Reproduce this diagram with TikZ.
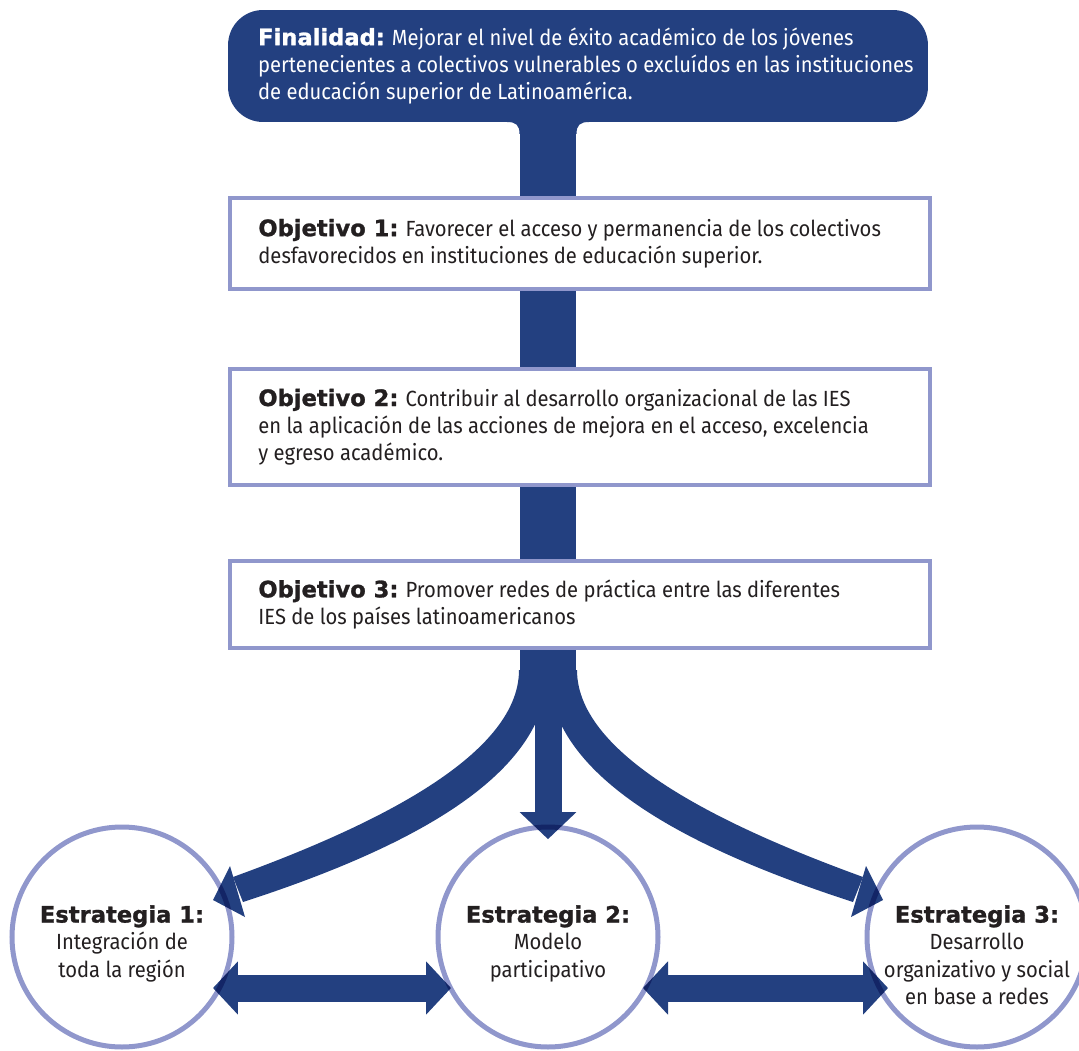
\documentclass[tikz,border=0pt]{standalone}
\usepackage{fontspec}
\setmainfont{Fira Sans}[FakeStretch=0.92]
\newfontfamily\headfont{DejaVu Sans}[Scale=1.03,FakeBold=1.2]
\usetikzlibrary{arrows.meta,positioning,calc}
\definecolor{finblue}{RGB}{35,64,128}
\definecolor{boxlila}{RGB}{144,151,204}
\definecolor{txtgray}{RGB}{35,31,32}
\newcommand{\pxl}{0.02cm}
\newcommand{\hd}[1]{{\headfont\bfseries #1}}
% left branch: tapered band and its head
\newcommand{\branchband}{(519,670) .. controls (519,758) and (365,829) .. (233,877)
  -- (243,902) .. controls (425,843) and (548,770) .. (548,670) -- cycle}
\newcommand{\branchhead}{(230,866) -- (213,900) -- (245,917) -- cycle}

\begin{document}
\begin{tikzpicture}[
x=\pxl, y=-\pxl,
font=\fontsize{12.5}{15.5}\selectfont,
ObjBox/.style={draw=boxlila,line width=0.08cm,fill=white,minimum width=14cm,inner sep=0pt},
ObjText/.style={anchor=west,align=left,inner sep=0pt,text=txtgray},
StratSpot/.style={circle,minimum size=4.4cm,inner sep=0pt},
StratRing/.style={boxlila,line width=0.1cm},
StratText/.style={anchor=north,align=center,inner sep=0pt,text=txtgray},
Trunk/.style={finblue,line width=1.14cm},
Shaft/.style={finblue,line width=0.54cm,-{Triangle[length=0.54cm,width=1.1cm]}},
TwoWay/.style={finblue,line width=0.54cm,{Triangle[length=0.5cm,width=1.04cm]}-{Triangle[length=0.5cm,width=1.04cm]}}
]
\useasboundingbox (0,0) rectangle (1079,1051);
\clip (0,0) rectangle (1079,1051);

% top box and the trunk
\node[fill=finblue,rounded corners=0.7cm,minimum width=14cm,minimum height=2.24cm,inner sep=0pt] (fin) at (578,66) {};
\coordinate (split) at (548,690);
\draw[Trunk] (split |- fin.south) -- (split);
\fill[finblue] (507,122) .. controls (516,122) and (519.5,125) .. (519.5,134) -- (576.5,134) .. controls (576.5,125) and (580,122) .. (589,122) -- cycle;

\node[StratSpot] (est1) at (122,937) {};
\node[StratSpot] (est2) at (548,937) {};
\node[StratSpot] (est3) at (977,937) {};

% arrows to the strategies
\fill[finblue] \branchband;
\fill[finblue] \branchhead;
\begin{scope}[shift={(1096,0)},xscale=-1]
\fill[finblue] \branchband;
\fill[finblue] \branchhead;
\end{scope}
\draw[Shaft] (split) -- ([yshift=-0.25cm]est2.north);
\draw[TwoWay] ($(est1.center)+(91,51)$) -- ($(est2.center)+(-97,51)$);
\draw[TwoWay] ($(est2.center)+(95,51)$) -- ($(est3.center)+(-89,51)$);

% rings on top, darkening where they cross the arrows
\begin{scope}[blend mode=multiply]
\draw[StratRing] (est1.center) circle[radius=110];
\draw[StratRing] (est2.center) circle[radius=110];
\draw[StratRing] (est3.center) circle[radius=110];
\end{scope}

% objectives
\node[ObjBox,minimum height=1.82cm] (obj1) at (580,243.5) {};
\node[ObjBox,minimum height=2.32cm] (obj2) at (580,427) {};
\node[ObjBox,minimum height=1.74cm] (obj3) at (580,604.5) {};

\node[ObjText,text=white] (fint) at ([xshift=0.6cm]fin.west) {\hd{Finalidad:} Mejorar el nivel de éxito académico de los jóvenes\\
pertenecientes a colectivos vulnerables o excluídos en las instituciones\\
de educación superior de Latinoamérica.};
\node[ObjText] (obj1t) at ([xshift=0.6cm]obj1.west) {\hd{Objetivo 1:} Favorecer el acceso y permanencia de los colectivos\\
desfavorecidos en instituciones de educación superior.};
\node[ObjText] (obj2t) at ([xshift=0.6cm]obj2.west) {\hd{Objetivo 2:} Contribuir al desarrollo organizacional de las IES\\
en la aplicación de las acciones de mejora en el acceso, excelencia\\
y egreso académico.};
\node[ObjText] (obj3t) at ([xshift=0.6cm]obj3.west) {\hd{Objetivo 3:} Promover redes de práctica entre las diferentes\\
IES de los países latinoamericanos};

% strategies
\node[StratText] (est1t) at ([yshift=0.64cm]est1.center) {\hd{Estrategia 1:}\\ Integración de\\ toda la región};
\node[StratText] (est2t) at ([yshift=0.64cm]est2.center) {\hd{Estrategia 2:}\\ Modelo\\ participativo};
\node[StratText] (est3t) at ([yshift=0.64cm]est3.center) {\hd{Estrategia 3:}\\ Desarrollo\\ organizativo y social\\ en base a redes};

\end{tikzpicture}
\end{document}
